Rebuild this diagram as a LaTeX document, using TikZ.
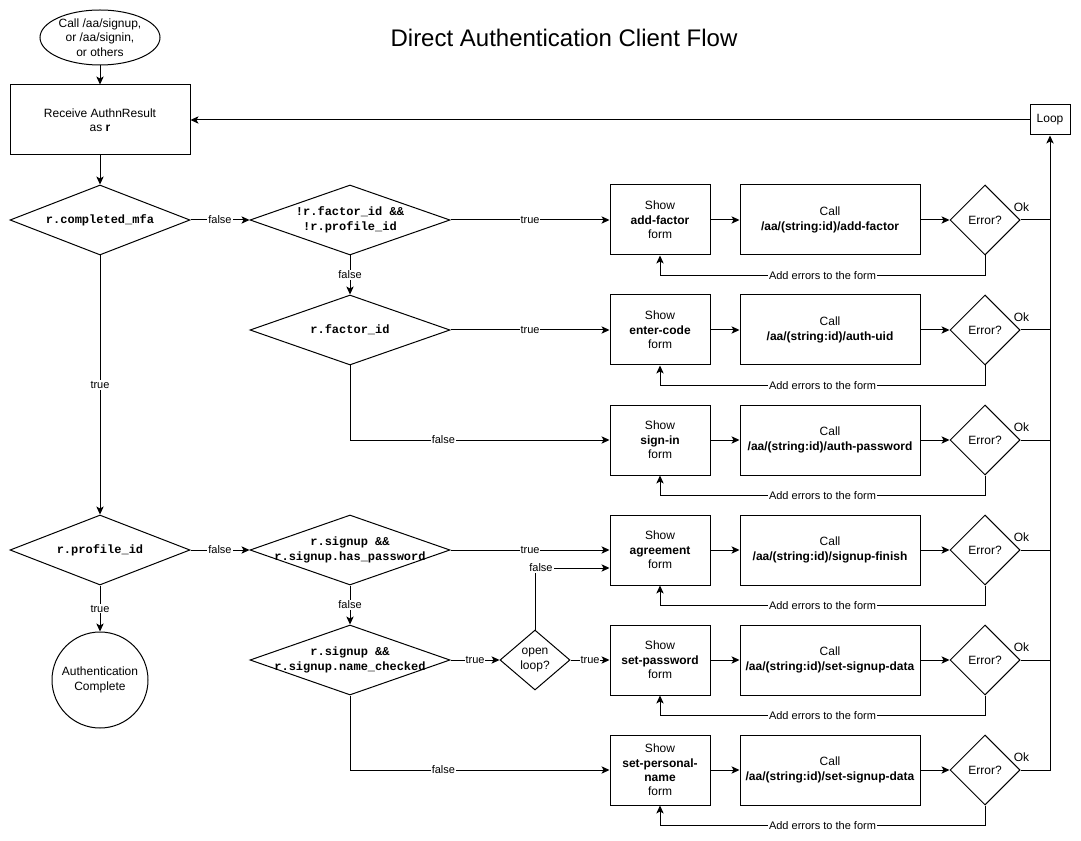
\documentclass[tikz,border=0pt]{standalone}
\usepackage{fontspec}
\setmainfont{Liberation Sans}
\setmonofont{Liberation Mono}
\usetikzlibrary{shapes.geometric,arrows.meta}

\tikzset{every picture/.style={line width=0.75pt}}
\tikzset{
  maintxt/.style={font=\fontsize{9}{10.8}\selectfont, align=center},
  codetxt/.style={font=\ttfamily\bfseries\fontsize{9}{11.25}\selectfont, align=center},
  lbl/.style={font=\fontsize{8.25}{9.9}\selectfont, fill=white, inner sep=0.75pt},
  oklbl/.style={maintxt, inner sep=0pt, yshift=9.75pt, xshift=0.75pt},
  procbox/.style={draw, maintxt, inner sep=0pt, minimum height=52.5pt},
  decision/.style={draw, diamond, maintxt, inner sep=0pt, minimum height=52.5pt},
  flow/.style={-{Stealth[length=6pt,width=5.5pt,inset=1.5pt]}},
}

\begin{document}
\begin{tikzpicture}[x=0.75pt,y=0.75pt,yscale=-1,xscale=1]
\useasboundingbox (0,0) rectangle (1081,841);

% Text Node
\node [font=\fontsize{18}{21.6}\selectfont] (title) at (564,38) {Direct Authentication Client Flow};

%Shape: Ellipse
\node [draw, ellipse, maintxt, inner sep=0pt, minimum width=90pt, minimum height=41.25pt] (start) at (100,37.5) {Call /aa/signup,\\or /aa/signin,\\or others};
%Shape: Rectangle
\node [procbox, minimum width=135pt] (receive) at (100,120) {Receive AuthnResult\\as \textbf{r}};
%Shape: Rectangle
\node [procbox, minimum width=30pt, minimum height=22.5pt] (loop) at (1050,120) {Loop};

%Flowchart: Decision
\node [decision, minimum width=135pt, label={[codetxt]center:{r.completed\_mfa}}] (mfa) at (100,220) {};
%Flowchart: Decision
\node [decision, minimum width=150pt, label={[codetxt]center:{!r.factor\_id \&\&\\!r.profile\_id}}] (noFactor) at (350,220) {};
%Flowchart: Decision
\node [decision, minimum width=150pt, label={[codetxt]center:{r.factor\_id}}] (factorId) at (350,330) {};
%Flowchart: Decision
\node [decision, minimum width=135pt, label={[codetxt]center:{r.profile\_id}}] (profileId) at (100,550) {};
%Flowchart: Decision
\node [decision, minimum width=150pt, label={[codetxt]center:{r.signup \&\&\\r.signup.has\_password}}] (signupPw) at (350,550) {};
%Flowchart: Decision
\node [decision, minimum width=150pt, label={[codetxt]center:{r.signup \&\&\\r.signup.name\_checked}}] (signupName) at (350,660) {};
%Flowchart: Decision
\node [decision, minimum width=52.5pt, minimum height=45pt] (openLoop) at (535,660) {open\\loop?};
%Shape: Circle
\node [draw, circle, maintxt, inner sep=0pt, minimum size=72pt] (done) at (100,680) {Authentication\\Complete};

%Shape: Rectangle
\node [procbox, minimum width=75pt] (showFactor) at (660,220) {Show\\\textbf{add-factor}\\form};
\node [procbox, minimum width=135pt] (callFactor) at (830,220) {Call\\\textbf{/aa/(string:id)/add-factor}};
\node [decision, minimum width=52.5pt] (errFactor) at (985,220) {Error?};
%Shape: Rectangle
\node [procbox, minimum width=75pt] (showCode) at (660,330) {Show\\\textbf{enter-code}\\form};
\node [procbox, minimum width=135pt] (callCode) at (830,330) {Call\\\textbf{/aa/(string:id)/auth-uid}};
\node [decision, minimum width=52.5pt] (errCode) at (985,330) {Error?};
%Shape: Rectangle
\node [procbox, minimum width=75pt] (showSignin) at (660,440) {Show\\\textbf{sign-in}\\form};
\node [procbox, minimum width=135pt] (callSignin) at (830,440) {Call\\\textbf{/aa/(string:id)/auth-password}};
\node [decision, minimum width=52.5pt] (errSignin) at (985,440) {Error?};
%Shape: Rectangle
\node [procbox, minimum width=75pt] (showAgree) at (660,550) {Show\\\textbf{agreement}\\form};
\node [procbox, minimum width=135pt] (callAgree) at (830,550) {Call\\\textbf{/aa/(string:id)/signup-finish}};
\node [decision, minimum width=52.5pt] (errAgree) at (985,550) {Error?};
%Shape: Rectangle
\node [procbox, minimum width=75pt] (showPass) at (660,660) {Show\\\textbf{set-password}\\form};
\node [procbox, minimum width=135pt] (callPass) at (830,660) {Call\\\textbf{/aa/(string:id)/set-signup-data}};
\node [decision, minimum width=52.5pt] (errPass) at (985,660) {Error?};
%Shape: Rectangle
\node [procbox, minimum width=75pt] (showName) at (660,770) {Show\\\textbf{set-personal-}\\\textbf{name}\\form};
\node [procbox, minimum width=135pt] (callName) at (830,770) {Call\\\textbf{/aa/(string:id)/set-signup-data}};
\node [decision, minimum width=52.5pt] (errName) at (985,770) {Error?};

%Straight Lines
\draw [flow] (start) -- (receive);
\draw [flow] (loop) -- (receive);
\draw [flow] (receive) -- (mfa);
\draw [flow] (mfa) -- node [lbl] {false} (noFactor);
\draw [flow] (mfa) -- node [lbl] {true} (profileId);
\draw [flow] (noFactor) -- node [lbl] {true} (showFactor);
\draw [flow] (noFactor) -- node [lbl] {false} (factorId);
\draw [flow] (factorId) -- node [lbl] {true} (showCode);
\draw [flow] (factorId.south) |- node [lbl, pos=0.68] {false} (showSignin.west);
\draw [flow] (profileId) -- node [lbl] {false} (signupPw);
\draw [flow] (profileId) -- node [lbl] {true} (done);
\draw [flow] (signupPw) -- node [lbl] {true} (showAgree);
\draw [flow] (signupPw) -- node [lbl] {false} (signupName);
\draw [flow] (signupName) -- node [lbl] {true} (openLoop);
\draw [flow] (openLoop) -- node [lbl] {true} (showPass);
\draw [flow] (openLoop.north) |- node [lbl, pos=0.54] {false} ([yshift=13.5pt]showAgree.west);
\draw [flow] (signupName.south) |- node [lbl, pos=0.68] {false} (showName.west);

%Straight Lines
\draw [flow] (showFactor) -- (callFactor);
\draw [flow] (callFactor) -- (errFactor);
\draw [flow] (errFactor.south) -- ++(0,20) -| node [lbl, pos=0.25] {Add errors to the form} (showFactor.south);
\draw (errFactor.east) node [oklbl] {Ok} -- (errFactor.east -| loop.south);
%Straight Lines
\draw [flow] (showCode) -- (callCode);
\draw [flow] (callCode) -- (errCode);
\draw [flow] (errCode.south) -- ++(0,20) -| node [lbl, pos=0.25] {Add errors to the form} (showCode.south);
\draw (errCode.east) node [oklbl] {Ok} -- (errCode.east -| loop.south);
%Straight Lines
\draw [flow] (showSignin) -- (callSignin);
\draw [flow] (callSignin) -- (errSignin);
\draw [flow] (errSignin.south) -- ++(0,20) -| node [lbl, pos=0.25] {Add errors to the form} (showSignin.south);
\draw (errSignin.east) node [oklbl] {Ok} -- (errSignin.east -| loop.south);
%Straight Lines
\draw [flow] (showAgree) -- (callAgree);
\draw [flow] (callAgree) -- (errAgree);
\draw [flow] (errAgree.south) -- ++(0,20) -| node [lbl, pos=0.25] {Add errors to the form} (showAgree.south);
\draw (errAgree.east) node [oklbl] {Ok} -- (errAgree.east -| loop.south);
%Straight Lines
\draw [flow] (showPass) -- (callPass);
\draw [flow] (callPass) -- (errPass);
\draw [flow] (errPass.south) -- ++(0,20) -| node [lbl, pos=0.25] {Add errors to the form} (showPass.south);
\draw (errPass.east) node [oklbl] {Ok} -- (errPass.east -| loop.south);
%Straight Lines
\draw [flow] (showName) -- (callName);
\draw [flow] (callName) -- (errName);
\draw [flow] (errName.south) -- ++(0,20) -| node [lbl, pos=0.25] {Add errors to the form} (showName.south);
\draw [flow] (errName.east) node [oklbl] {Ok} -- (errName.east -| loop.south) -- (loop.south);

\end{tikzpicture}
\end{document}
